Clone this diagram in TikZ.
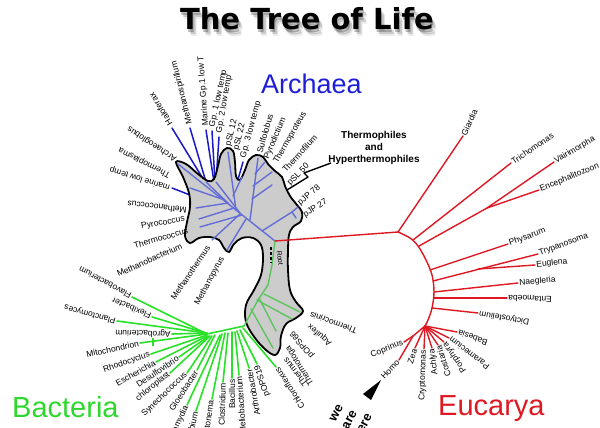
\documentclass[tikz,border=0pt]{standalone}
\usepackage{fontspec}
\setmainfont{Liberation Sans}
\newfontfamily\titlefont{DejaVu Sans}
\usetikzlibrary{calc}
\definecolor{arcBlue}{RGB}{25,25,200}
\definecolor{arcInner}{RGB}{100,110,215}
\definecolor{arcText}{RGB}{30,30,215}
\definecolor{bacGreen}{RGB}{40,225,40}
\definecolor{bacInner}{RGB}{95,195,95}
\definecolor{bacText}{RGB}{45,215,45}
\definecolor{eucRed}{RGB}{222,25,35}
\definecolor{blobGray}{RGB}{204,204,204}

\begin{document}
\begin{tikzpicture}[x=1pt,y=-1pt,
    leaf/.style={font=\fontsize{8.5}{9}\selectfont,inner sep=1.2pt},
    domainname/.style={anchor=base west,inner sep=0pt,font=\fontsize{29}{29}\selectfont},
    arcline/.style={arcBlue,line width=1.5pt,line cap=round},
    arcinner/.style={arcInner,line width=1.4pt,line cap=round},
    bacline/.style={bacGreen,line width=1.6pt,line cap=round},
    bacinner/.style={bacInner,line width=1.4pt,line cap=round},
    eucline/.style={eucRed,line width=1.4pt,line cap=round,line join=round},
    blob/.style={fill=blobGray,draw=black,line width=1.8pt}]

  \useasboundingbox (0,0) rectangle (600,428);
  \clip (0,0) rectangle (600,428);

  % title and its shadow
  \foreach \dx/\dy/\op [count=\ni] in {1/3/0.25,3/5/0.15,4/7/0.08}
    \node[anchor=base,opacity=\op,font=\titlefont\bfseries\fontsize{29}{29}\selectfont] (shadow\ni) at (307+\dx,30+\dy) {The Tree of Life};
  \node[anchor=base,font=\titlefont\bfseries\fontsize{29}{29}\selectfont] (title) at (307,30) {The Tree of Life};

  % the three domains
  \node[domainname,text=arcText,font=\fontsize{27}{27}\selectfont] (archaea) at (261,94) {Archaea};
  \node[domainname,text=bacText] (bacteria) at (12,417) {Bacteria};
  \node[domainname,text=eucRed] (eucarya) at (438,415) {Eucarya};

  % archaeal branches that leave the blob
  \foreach \sx/\sy/\tx/\ty in {205/182/172/128, 206/182/190/128, 214/182/206/130,
      215/182/212/131, 216/182/219/137, 237/183/243/162, 190/195/172/188}
    \draw[arcline] (\sx,\sy) -- (\tx,\ty);

  % the grey blob
  \draw[blob] plot[smooth cycle,tension=0.6] coordinates {
    (176,162) (186,164) (198,174) (208,181) (214,179) (218,166) (221,154)
    (227,148) (233,151) (235,162) (236,176) (240,180) (245,170) (249,160)
    (256,155) (263,157) (268,164) (275,171) (282,177) (285,186) (290,196)
    (297,205) (302,212) (301,221) (293,227) (289,235) (288,250) (288,270)
    (290,290) (296,302) (303,311) (296,318) (286,324) (281,336) (280,348)
    (275,355) (266,350) (255,338) (246,322) (246,305) (254,290) (261,275)
    (263,258) (261,245) (253,238) (242,238) (234,244) (229,252) (224,248)
    (219,240) (210,237) (199,238) (190,243) (185,236) (187,222) (190,207)
    (189,193) (183,177)};

  \coordinate (root) at (275,241);

  % archaeal branches inside the blob
  \draw[arcinner] (root) -- (178,164);
  \foreach \sx/\sy/\tx/\ty in {229/204/206/182, 240/213/216/182, 236/210/228/152,
      233/196/242/177, 250/220/258/158, 253/186/272/172, 252/199/272/185,
      255/174/265/162, 262/231/292/212, 292/212/298/207, 292/212/296/218,
      222/199/190/188, 228/203/196/208, 234/208/199/219, 242/215/200/227,
      246/219/227/250, 240/214/212/240}
    \draw[arcinner] (\sx,\sy) -- (\tx,\ty);

  % bacterial stem and the branches inside the blob
  \coordinate (bH) at (244,326);
  \draw[bacinner] (root) -- (272,265) -- (268,285) -- (258,300) -- (bH);
  \foreach \sx/\sy/\tx/\ty in {264/294/300/312, 257/300/292/319, 259/298/276/331,
      251/309/273/348}
    \draw[bacinner] (\sx,\sy) -- (\tx,\ty);

  % root mark
  \draw[line width=1.5pt,dash pattern=on 2.5pt off 2.5pt] (271,247) -- (271,263);
  \node[leaf,rotate=-82,font=\fontsize{7}{8}\selectfont] (rootlabel) at (280,258) {Root};

  % thermophiles flash
  \draw[line width=1.4pt,line join=round] (287,190) -- (308,177) -- (304,173) -- (331,163);
  \node[align=center,font=\bfseries\fontsize{10}{12}\selectfont] (thermo) at (374,148)
    {Thermophiles\\and\\Hyperthermophiles};

  % bacterial fan
  \draw[bacline] (bH) -- (207,334);
  \foreach \sx/\sy/\tx/\ty/\ang/\name [count=\ni] in {
      243/328/276/367/123/Chloroflexus, 240/330/257/364/108/pOPS19,
      237/331/249/368/100/Arthrobacter, 235/332/239/375/94/Heliobacterium,
      232/332/232/378/90/Bacillus, 228/333/223/382/88/Clostridium,
      225/333/212/399/82/Leptonema, 222/334/196/411/75/Chlorobium,
      220/335/187/405/65/Chlamydia, 215/335/197/370/57/Gloeobacter,
      212/336/187/373/44/Synechococcus, 210/336/170/373/39/chloroplast,
      209/336/179/357/34/Desulfovibrio, 207/336/156/362/29/Escherichia,
      207/335/151/354/19/Rhodocyclus, 207/334/140/343/12/Mitochondrion}
  {
    \draw[bacline] (\sx,\sy) -- (\tx,\ty) coordinate (btip\ni);
    \node[leaf,rotate=\ang,anchor=east] (bac\ni) at (btip\ni) {\name};
  }
  \foreach \sx/\sy/\tx/\ty/\ang/\name [count=\ni] in {
      207/333/172/334/178/Agrobacterium, 207/333/117/321/165/Planctomyces,
      206/333/152/317/157/Flexibacter, 205/333/132/297/152/Flavobacterium}
  {
    \draw[bacline] (\sx,\sy) -- (\tx,\ty) coordinate (ftip\ni);
    \node[leaf,rotate=\ang,anchor=west] (flx\ni) at (ftip\ni) {\name};
  }
  \draw[bacGreen,line width=2.4pt] (153,338) -- (153,346);

  % thermophilic bacteria labels
  \foreach \tx/\ty/\ang/\name [count=\ni] in {309/314/160/Thermocrinis,
      308/325/140/Aquifex, 291/331/130/pOPS66, 287/345/122/Thermotoga,
      284/358/128/Thermus}
    \node[leaf,rotate=\ang,anchor=east] (hot\ni) at (\tx,\ty) {\name};

  % archaeal labels
  \foreach \tx/\ty/\ang/\anc/\name [count=\ni] in {
      171/126/122/west/Haloferax, 190/125/104/west/Methanospirillum,
      206/127/94/west/Marine Gp.1 low T, 212/128/78/west/Gp. 1 low temp,
      219/134/80/west/Gp. 2 low temp, 228/147/76/west/pSL 12,
      236/151/76/west/pSL 22, 243/159/75/west/Gp. 3 low temp,
      259/154/74/west/Sulfolobus, 266/160/67/west/Pyrodictium,
      275/164/60/west/Thermoproteus, 283/172/48/west/Thermofilum,
      288/185/45/west/pSL 50, 298/205/40/west/pJP 78,
      303/216/32/west/pJP 27, 177/160/147/west/Archaeoglobus,
      171/176/153/west/Thermoplasma, 171/188/163/west/marine low temp,
      188/211/173/west/Methanococcus, 186/219/10/east/Pyrococcus,
      189/230/16/east/Thermococcus, 183/245/24/east/Methanobacterium,
      209/245/56/east/Methanothermus, 223/256/62/east/Methanopyrus}
    \node[leaf,rotate=\ang,anchor=\anc] (arc\ni) at (\tx,\ty) {\name};

  % eucaryal tree
  \coordinate (eA) at (398,232);
  \coordinate (eB) at (413,240);
  \coordinate (eC) at (419,246);
  \coordinate (eD) at (430,270);
  \coordinate (eE) at (433,281);
  \coordinate (eF) at (434,292);
  \coordinate (eG) at (434,298);
  \coordinate (eH) at (432,308);
  \coordinate (eI) at (425,326);
  \coordinate (eJ) at (487,208);
  \coordinate (eK) at (478,269);
  \coordinate (eL) at (413,336);
  \draw[eucline] (root) -- (eA);
  \draw[eucline] plot[smooth,tension=0.6] coordinates {(398,232) (410,238) (418,246)
    (426,260) (432,275) (434,292) (432,308) (428,320) (424,328)};
  \draw[eucline] (eC) -- (eJ);
  \draw[eucline] (eI) -- (eL);
  \foreach \hub/\tx/\ty/\ang/\anc/\name [count=\ni] in {
      eA/463/136/65/west/Giardia, eB/511/163/34/west/Trichomonas,
      eJ/554/162/30/west/Vairimorpha, eJ/539/190/22/west/Encephalitozoon,
      eD/508/244/20/west/Physarum, eE/538/254/20/west/Trypanosoma,
      eK/535/265/6/west/Euglena, eF/518/283/5/west/Naegleria,
      eG/507/298/178/east/Entamoeba, eH/478/313/170/east/Dictyostelium,
      eI/457/332/160/east/Babesia, eI/449/338/143/east/Paramecium,
      eI/444/342/125/east/Porphyra, eI/438/345/108/east/Costaria,
      eI/432/348/97/east/Achlya, eI/424/349/88/east/Cryptomonas,
      eI/415/348/72/east/Zea, eL/399/360/47/east/Homo,
      eL/404/342/22/east/Coprinus}
  {
    \draw[eucline] (\hub) -- (\tx,\ty) coordinate (etip\ni);
    \node[leaf,rotate=\ang,anchor=\anc] (euc\ni) at (etip\ni) {\name};
  }

  % we are here
  \fill (381,380) -- (363,394) -- (371,400) -- cycle;
  \node[anchor=north,inner sep=0pt,rotate=62,align=center,
    font=\bfseries\fontsize{13}{15}\selectfont] (here) at (333,411) {we\\are\\here};

\end{tikzpicture}
\end{document}
